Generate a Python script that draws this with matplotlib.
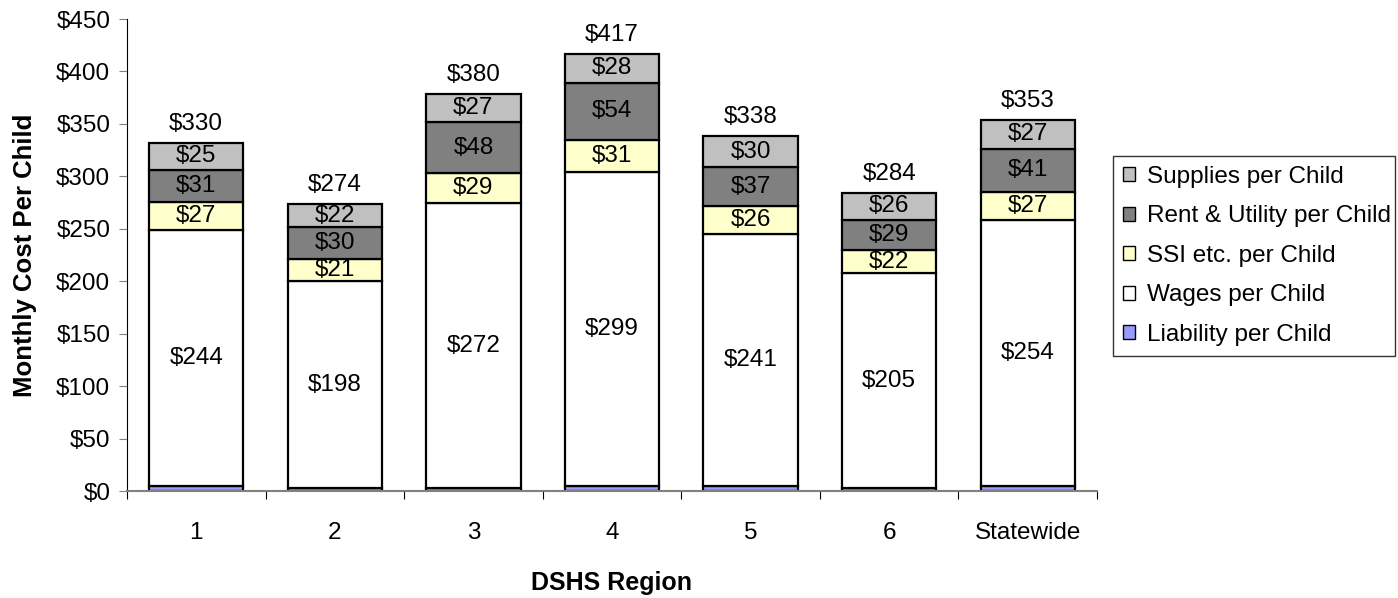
import numpy as np
import matplotlib
matplotlib.use('Agg')
import matplotlib.pyplot as plt

plt.rcParams['font.family'] = ['Liberation Sans', 'DejaVu Sans']

# data
regions = ['1', '2', '3', '4', '5', '6', 'Statewide']
liability = [4.5, 2.5, 2.5, 5, 4.5, 2.5, 4.5]
wages = [244, 198, 272, 299, 241, 205, 254]
ssi = [27, 21, 29, 31, 26, 22, 27]
rent = [31, 30, 48, 54, 37, 29, 41]
supplies = [25, 22, 27, 28, 30, 26, 27]
totals = [330, 274, 380, 417, 338, 284, 353]

series = [
    ('Liability per Child', liability, '#9999FF', False),
    ('Wages per Child', wages, '#FFFFFF', True),
    ('SSI etc. per Child', ssi, '#FFFFCC', True),
    ('Rent & Utility per Child', rent, '#808080', True),
    ('Supplies per Child', supplies, '#C0C0C0', True),
]

fs = 17.5

fig = plt.figure(figsize=(13.98, 5.98), dpi=100)
ax = fig.add_axes([0.0908, 0.1789, 0.6939, 0.7893])

x = np.arange(len(regions))
bottom = np.zeros(len(regions))
handles = []
for name, vals, col, show in series:
    vals = np.array(vals, dtype=float)
    b = ax.bar(x, vals, 0.68, bottom=bottom, color=col, edgecolor='black',
               linewidth=1.6, label=name)
    handles.append(b)
    if show:
        for xi, v, bt in zip(x, vals, bottom):
            ax.text(xi, bt + v / 2, '$%d' % round(v), ha='center', va='center', fontsize=fs)
    bottom += vals

for xi, t, top in zip(x, totals, bottom):
    ax.text(xi, top + 7.5, '$%d' % t, ha='center', va='bottom', fontsize=fs)

ax.set_xlim(-0.5, len(regions) - 0.5)
ax.set_ylim(0, 450)
ax.set_yticks(np.arange(0, 451, 50))
ax.set_yticklabels(['$%d' % v for v in range(0, 451, 50)], fontsize=fs)
ax.set_xticks(np.arange(-0.5, len(regions), 1))
ax.set_xticklabels([])
ax.set_xticks(x, minor=True)
ax.set_xticklabels(regions, minor=True, fontsize=fs)
ax.tick_params(axis='x', which='minor', length=0, pad=22)
ax.tick_params(axis='x', which='major', length=6, color='black')
ax.tick_params(axis='y', length=6, color='#808080', pad=6)

for s in ['top', 'right']:
    ax.spines[s].set_visible(False)
ax.spines['left'].set_color('black')
ax.spines['bottom'].set_color('#808080')
ax.spines['bottom'].set_linewidth(1.5)

ax.set_ylabel('Monthly Cost Per Child', fontsize=18.5, fontweight='bold', labelpad=14)
ax.set_xlabel('DSHS Region', fontsize=18, fontweight='bold', labelpad=20)

# legend box spans the area Excel gave it, text left aligned
leg = fig.legend(handles[::-1], [h.get_label() for h in handles[::-1]],
                 loc='upper left', bbox_to_anchor=(0.7961, 0.411, 0.2017, 0.328),
                 mode='expand', fontsize=fs,
                 frameon=True, fancybox=False, edgecolor='black',
                 handlelength=0.5, handleheight=0.5, handletextpad=0.5,
                 labelspacing=0.72, borderpad=0.4, borderaxespad=0)
leg.get_frame().set_linewidth(1.0)
for p in leg.get_patches():
    p.set_linewidth(1.0)

fig.savefig('out.png', dpi=100)
